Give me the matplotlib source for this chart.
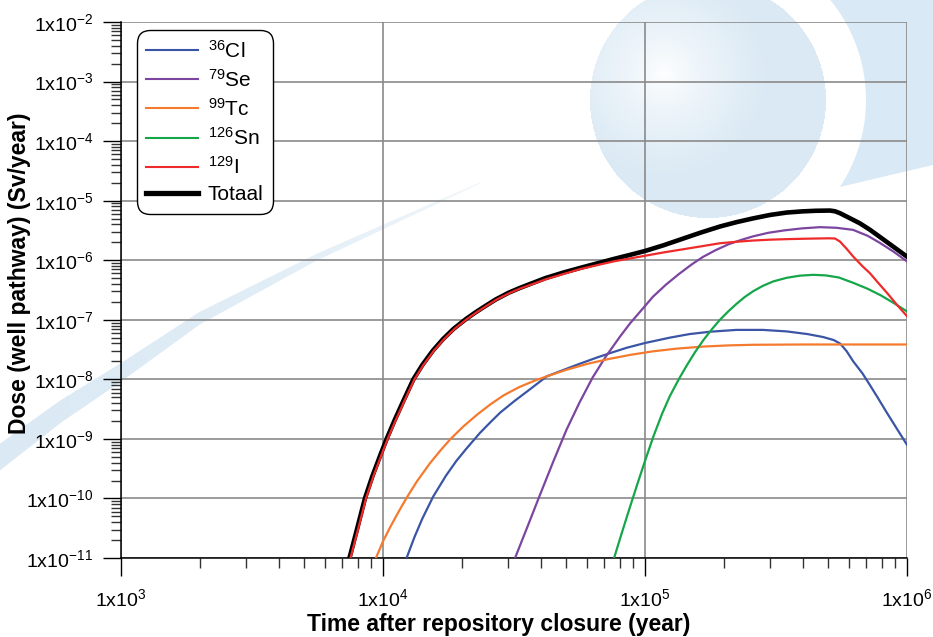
import numpy as np
import matplotlib
matplotlib.use("Agg")
import matplotlib.pyplot as plt
from matplotlib.ticker import LogLocator, FuncFormatter, NullFormatter
from matplotlib.patches import Polygon
from matplotlib.collections import PolyCollection

plt.rcParams['font.family'] = ['Liberation Sans', 'DejaVu Sans']
plt.rcParams['mathtext.fontset'] = 'custom'
plt.rcParams['mathtext.rm'] = 'Liberation Sans'
plt.rcParams['mathtext.it'] = 'Liberation Sans:italic'
plt.rcParams['mathtext.bf'] = 'Liberation Sans:bold'

# ---------------- data (log10 of time in years, log10 of dose in Sv/year) ----------------
total_log_t = [3.872, 3.90, 3.931, 3.96, 3.99, 4.014, 4.045, 4.08, 4.116, 4.15, 4.19, 4.23,
               4.27, 4.316, 4.35, 4.383, 4.43, 4.48, 4.52, 4.561, 4.62, 4.69, 4.752, 4.82,
               4.88, 4.943, 5.0, 5.07, 5.14, 5.21, 5.286, 5.35, 5.41, 5.477, 5.54, 5.60,
               5.65, 5.706, 5.725, 5.744, 5.78, 5.82, 5.859, 5.90, 5.95, 6.0]
total_log_d = [-11.0, -10.53, -10.0, -9.62, -9.27, -9.0, -8.68, -8.34, -8.0, -7.76, -7.52, -7.32,
               -7.15, -6.99, -6.885, -6.79, -6.66, -6.545, -6.47, -6.40, -6.30, -6.205, -6.13, -6.05,
               -5.98, -5.91, -5.845, -5.75, -5.645, -5.54, -5.434, -5.36, -5.30, -5.24, -5.20, -5.18,
               -5.17, -5.166, -5.178, -5.21, -5.29, -5.38, -5.49, -5.62, -5.78, -5.94]

i129_log_t = [3.876, 3.904, 3.935, 3.964, 3.994, 4.018, 4.049, 4.084, 4.12, 4.154, 4.194, 4.234,
              4.274, 4.32, 4.354, 4.387, 4.434, 4.484, 4.524, 4.565, 4.625, 4.694, 4.752, 4.82,
              4.88, 4.943, 5.0, 5.07, 5.14, 5.21, 5.286, 5.35, 5.41, 5.477, 5.55, 5.62,
              5.70, 5.725, 5.744, 5.77, 5.795, 5.83, 5.859, 5.89, 5.924, 5.96, 6.0]
i129_log_d = [-11.0, -10.53, -10.0, -9.62, -9.27, -9.0, -8.68, -8.34, -8.0, -7.76, -7.52, -7.32,
              -7.15, -6.99, -6.885, -6.79, -6.66, -6.55, -6.475, -6.41, -6.315, -6.225, -6.15, -6.08,
              -6.02, -5.97, -5.925, -5.87, -5.82, -5.77, -5.715, -5.69, -5.67, -5.655, -5.645, -5.638,
              -5.632, -5.635, -5.686, -5.81, -5.94, -6.10, -6.22, -6.38, -6.55, -6.74, -6.94]

se79_log_t = [4.504, 4.55, 4.60, 4.65, 4.70, 4.75, 4.80, 4.85, 4.905, 4.943, 4.99, 5.031,
              5.08, 5.13, 5.18, 5.221, 5.27, 5.32, 5.37, 5.412, 5.47, 5.53, 5.60, 5.668,
              5.73, 5.794, 5.85, 5.897, 5.95, 6.0]
se79_log_d = [-11.0, -10.49, -9.93, -9.38, -8.85, -8.39, -7.97, -7.62, -7.28, -7.06, -6.82, -6.61,
              -6.41, -6.23, -6.065, -5.945, -5.83, -5.73, -5.655, -5.60, -5.54, -5.50, -5.465, -5.445,
              -5.455, -5.49, -5.59, -5.71, -5.86, -6.02]

tc99_log_t = [3.973, 4.0, 4.03, 4.06, 4.09, 4.13, 4.179, 4.22, 4.256, 4.307, 4.36, 4.41,
              4.46, 4.52, 4.58, 4.625, 4.70, 4.78, 4.86, 4.943, 5.03, 5.12, 5.221, 5.32,
              5.412, 5.6, 5.8, 6.0]
tc99_log_d = [-11.0, -10.72, -10.46, -10.22, -9.99, -9.71, -9.41, -9.19, -9.01, -8.79, -8.59, -8.42,
              -8.27, -8.13, -8.02, -7.95, -7.84, -7.74, -7.66, -7.59, -7.53, -7.485, -7.45, -7.43,
              -7.42, -7.415, -7.415, -7.415]

cl36_log_t = [4.09, 4.12, 4.15, 4.192, 4.24, 4.28, 4.319, 4.37, 4.41, 4.447, 4.50, 4.56,
              4.625, 4.69, 4.75, 4.816, 4.87, 4.93, 5.0, 5.095, 5.17, 5.25, 5.349, 5.45,
              5.54, 5.62, 5.68, 5.72, 5.745, 5.77, 5.795, 5.83, 5.859, 5.89, 5.923, 5.96, 6.0]
cl36_log_d = [-11.0, -10.65, -10.34, -9.965, -9.62, -9.37, -9.16, -8.90, -8.72, -8.56, -8.37, -8.17,
              -7.95, -7.84, -7.74, -7.635, -7.555, -7.47, -7.39, -7.30, -7.24, -7.20, -7.17, -7.17,
              -7.195, -7.24, -7.29, -7.34, -7.40, -7.53, -7.70, -7.90, -8.10, -8.32, -8.56, -8.82, -9.10]

sn126_log_t = [4.882, 4.91, 4.94, 4.97, 5.0, 5.032, 5.065, 5.095, 5.13, 5.159, 5.19, 5.223,
               5.255, 5.286, 5.32, 5.35, 5.38, 5.413, 5.45, 5.49, 5.541, 5.59, 5.642, 5.69,
               5.74, 5.795, 5.85, 5.90, 5.95, 6.0]
sn126_log_d = [-11.0, -10.60, -10.18, -9.77, -9.37, -8.96, -8.58, -8.28, -7.99, -7.77, -7.55, -7.34,
               -7.16, -7.0, -6.85, -6.73, -6.62, -6.52, -6.43, -6.355, -6.295, -6.26, -6.245, -6.255,
               -6.29, -6.38, -6.48, -6.59, -6.72, -6.86]

series_labels = [r'$^{36}$Cl', r'$^{79}$Se', r'$^{99}$Tc', r'$^{126}$Sn', r'$^{129}$I', 'Totaal']
series_colors = ['#3a55a5', '#7b45a0', '#f47a2e', '#16a64a', '#ee2a2a', '#000000']

x_label = 'Time after repository closure (year)'
y_label = 'Dose (well pathway) (Sv/year)'

# ---------------- figure ----------------
W, H = 933, 637
fig = plt.figure(figsize=(W / 100, H / 100), dpi=100)

# decorative watermark background (pixel coordinates)
bg = fig.add_axes([0, 0, 1, 1], zorder=0)
bg.set_xlim(0, W)
bg.set_ylim(H, 0)
bg.axis('off')

# gradient circle
cx, cy, r = 708, 100, 118
hx, hy = 664, 74
x0, x1, y0, y1 = cx - r - 2, cx + r + 2, cy - r - 2, cy + r + 2
xs = np.arange(x0, x1) + 0.5
ys = np.arange(y0, y1) + 0.5
XX, YY = np.meshgrid(xs, ys)
inside = (XX - cx) ** 2 + (YY - cy) ** 2 <= r ** 2
t = np.clip(np.hypot(XX - hx, YY - hy) / 105.0, 0, 1) ** 0.75
base = np.array([0.855, 0.914, 0.957])
img = np.ones((len(ys), len(xs), 4))
for k in range(3):
    img[..., k] = 1.0 * (1 - t) + base[k] * t
img[..., 3] = inside.astype(float)
bg.imshow(img, extent=[x0, x1, y1, y0], origin='upper', interpolation='bilinear', zorder=0)

# outer wedge (arc + straight edge)
R2 = 158
angs = np.linspace(np.arctan2(-130, 144), np.arctan2(87, 132), 60)
arc = np.column_stack([cx + R2 * np.cos(angs), cy + R2 * np.sin(angs)])
wedge_pts = np.vstack([arc, [[933, 165], [933, -30]]])
bg.add_patch(Polygon(wedge_pts, closed=True, facecolor='#d9e9f5', edgecolor='none', zorder=0))

# swoosh band
sw_x = np.array([-20, 0, 60, 120, 200, 317, 383, 480])
sw_c = np.array([470, 457, 412, 373, 318, 257, 227, 183])
sw_h = np.array([28, 26, 22, 18, 12, 6, 4, 0.5])
xx = np.linspace(-20, 480, 200)
cc = np.interp(xx, sw_x, sw_c)
hh = np.interp(xx, sw_x, sw_h)
polys, cols = [], []
for i in range(len(xx) - 1):
    polys.append([(xx[i], cc[i] - hh[i] / 2), (xx[i + 1], cc[i + 1] - hh[i + 1] / 2),
                  (xx[i + 1], cc[i + 1] + hh[i + 1] / 2), (xx[i], cc[i] + hh[i] / 2)])
    f = (xx[i] + 20) / 500.0
    c = base * (1 - 0.6 * f ** 2) + np.ones(3) * 0.6 * f ** 2
    cols.append(tuple(c))
bg.add_collection(PolyCollection(polys, facecolors=cols, edgecolors=cols, linewidths=0.3, zorder=0))

# main axes
L, R, T, B = 121, 907, 22, 558
ax = fig.add_axes([L / W, 1 - B / H, (R - L) / W, (B - T) / H], zorder=1)
ax.patch.set_visible(False)
ax.set_xscale('log')
ax.set_yscale('log')
ax.set_xlim(1e3, 1e6)
ax.set_ylim(1e-11, 1e-2)

def lin(v):
    return 10.0 ** np.asarray(v)

ax.plot(lin(total_log_t), lin(total_log_d), color=series_colors[5], lw=3.3, zorder=2,
        solid_joinstyle='round', label=series_labels[5])
ax.plot(lin(cl36_log_t), lin(cl36_log_d), color=series_colors[0], lw=1.6, zorder=3, label=series_labels[0])
ax.plot(lin(se79_log_t), lin(se79_log_d), color=series_colors[1], lw=1.6, zorder=3, label=series_labels[1])
ax.plot(lin(tc99_log_t), lin(tc99_log_d), color=series_colors[2], lw=1.6, zorder=3, label=series_labels[2])
ax.plot(lin(sn126_log_t), lin(sn126_log_d), color=series_colors[3], lw=1.6, zorder=3, label=series_labels[3])
ax.plot(lin(i129_log_t), lin(i129_log_d), color=series_colors[4], lw=1.6, zorder=3, label=series_labels[4])

# grid and spines
ax.grid(True, which='major', color='#8a8a8a', lw=1.2, zorder=1)
ax.set_axisbelow(True)
for s in ['top', 'right']:
    ax.spines[s].set_visible(False)
for s in ['left', 'bottom']:
    ax.spines[s].set_color('black')
    ax.spines[s].set_linewidth(1.1)

def fmt(v, pos):
    e = int(np.round(np.log10(v)))
    return r'1x10$^{%d}$' % e

ax.xaxis.set_major_locator(LogLocator(base=10, numticks=20))
ax.yaxis.set_major_locator(LogLocator(base=10, numticks=20))
ax.xaxis.set_minor_locator(LogLocator(base=10, subs=np.arange(2, 10), numticks=50))
ax.yaxis.set_minor_locator(LogLocator(base=10, subs=np.arange(2, 10), numticks=50))
ax.xaxis.set_major_formatter(FuncFormatter(fmt))
ax.yaxis.set_major_formatter(FuncFormatter(fmt))
ax.xaxis.set_minor_formatter(NullFormatter())
ax.yaxis.set_minor_formatter(NullFormatter())
ax.tick_params(which='major', direction='out', length=13, width=1.0, color='black',
               labelsize=14, pad=7)
ax.tick_params(which='minor', direction='out', length=7.5, width=1.0, color='#333333')
ax.tick_params(axis='x', which='major', pad=9)

ax.set_xlabel(x_label, fontsize=16.5, fontweight='bold')
ax.set_ylabel(y_label, fontsize=16.5, fontweight='bold')
ax.xaxis.set_label_coords(0.481, -0.102)
ax.yaxis.set_label_coords(-0.1145, 0.532)

# legend in the original order
handles, labels = ax.get_legend_handles_labels()
order = [labels.index(l) for l in series_labels]
leg = ax.legend([handles[i] for i in order], [labels[i] for i in order],
                loc='upper left', bbox_to_anchor=(0.0204, 0.985), borderaxespad=0,
                fontsize=15, frameon=True, fancybox=True, edgecolor='black',
                framealpha=1, handlelength=2.5, handletextpad=0.45, labelspacing=0.35,
                borderpad=0.45)
leg.get_frame().set_linewidth(1.0)
leg.get_frame().set_boxstyle('round', pad=0, rounding_size=0.6)
leg.set_zorder(5)
for line in leg.get_lines():
    if line.get_color() in ('#000000', 'black'):
        line.set_linewidth(3.8)
    else:
        line.set_linewidth(1.5)

fig.savefig('out.png', dpi=100)
